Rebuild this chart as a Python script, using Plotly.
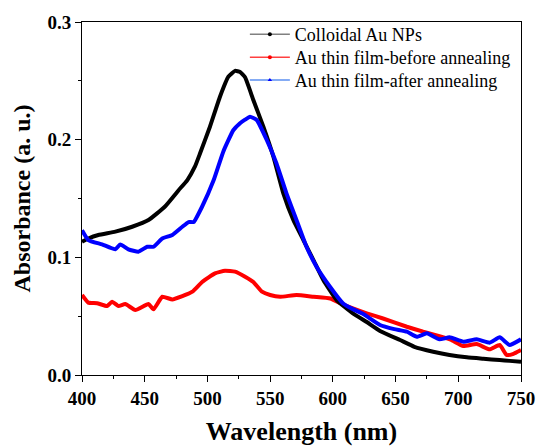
import plotly.graph_objects as go

# Colloidal Au NPs
wl_black = [400, 405, 413, 426.6, 440, 453, 466, 477, 484, 490, 494, 502, 510, 516.7, 522, 526,
            530, 536.6, 544.6, 552.6, 560.5, 568.5, 576.5, 584.5, 592.4, 603, 616, 627, 637.6,
            653.6, 665, 680, 693, 706.8, 720, 733, 741, 750]
ab_black = [0.1133, 0.116, 0.119, 0.1218, 0.126, 0.1317, 0.143, 0.157, 0.1657, 0.177, 0.188, 0.211,
            0.2365, 0.2535, 0.2585, 0.2575, 0.253, 0.2337, 0.211, 0.1855, 0.1544, 0.1317, 0.1147,
            0.0977, 0.0807, 0.0637, 0.0524, 0.045, 0.0375, 0.0297, 0.024, 0.0198, 0.017, 0.015,
            0.0138, 0.0127, 0.012, 0.0113]

# Au thin film - before annealing
wl_red = [400, 405, 412, 420, 424, 429, 434.5, 442.5, 453, 457, 464, 472, 480, 488, 496, 506, 514,
          522, 530, 536.6, 543.5, 550, 558, 571, 584.5, 598, 606, 616, 627, 640, 659, 672, 685, 694,
          704, 714.7, 725, 733, 738.5, 744, 750]
ab_red = [0.068, 0.0615, 0.061, 0.0586, 0.0623, 0.0586, 0.0603, 0.0552, 0.0603, 0.0558, 0.0665,
          0.0642, 0.067, 0.0708, 0.0793, 0.0864, 0.0886, 0.0878, 0.0835, 0.079, 0.0708, 0.068,
          0.0665, 0.068, 0.0665, 0.065, 0.061, 0.0566, 0.0524, 0.048, 0.041, 0.0368, 0.033, 0.030,
          0.0246, 0.0263, 0.0218, 0.0255, 0.017, 0.018, 0.0212]

# Au thin film - after annealing
wl_blue = [400, 405, 416, 426.6, 430.5, 437, 445, 452, 457, 464, 472, 480, 485, 489, 495.7, 505,
           512.7, 520.6, 526, 530, 534, 539.3, 547.3, 555, 563, 571, 579, 587, 597.7, 608, 616,
           624, 637.6, 649, 659, 667, 675, 685, 693, 704, 714.7, 725, 733, 741, 750]
ab_blue = [0.123, 0.1147, 0.111, 0.1068, 0.111, 0.1068, 0.1048, 0.109, 0.109, 0.116, 0.119, 0.126,
           0.130, 0.130, 0.143, 0.1657, 0.190, 0.208, 0.214, 0.217, 0.2195, 0.2167, 0.1997, 0.180,
           0.1544, 0.1317, 0.109, 0.092, 0.075, 0.061, 0.056, 0.052, 0.0425, 0.039, 0.0368, 0.0325,
           0.0354, 0.0303, 0.032, 0.0283, 0.0303, 0.0275, 0.032, 0.0255, 0.0303]

names = ["Colloidal Au NPs", "Au thin film-before annealing", "Au thin film-after annealing"]
line_colors = ["#000000", "#ff0000", "#0000ff"]
legend_line_colors = ["#808080", "#ff4040", "#5b8ff0"]
legend_marker_colors = ["#000000", "#ff0000", "#0000ff"]
legend_symbols = ["circle", "circle", "triangle-up"]
legend_ids = ["legend", "legend2", "legend3"]
legend_y = [1.017, 0.952, 0.887]

series = [(wl_black, ab_black), (wl_red, ab_red), (wl_blue, ab_blue)]

fig = go.Figure()
# draw red first, then black, then blue on top (as in the reference)
for idx in [1, 0, 2]:
    wl, ab = series[idx]
    fig.add_trace(go.Scatter(x=wl, y=ab, mode="lines", showlegend=False,
                             line=dict(color=line_colors[idx], width=4, shape="spline", smoothing=0.4)))

for i in range(3):
    fig.add_trace(go.Scatter(x=[None], y=[None], mode="lines+markers", name=names[i],
                             legend=legend_ids[i],
                             line=dict(color=legend_line_colors[i], width=1.5),
                             marker=dict(color=legend_marker_colors[i], size=4, symbol=legend_symbols[i])))

font_family = "Liberation Serif"
legend_common = dict(x=0.371, xanchor="left", yanchor="top", bgcolor="rgba(0,0,0,0)",
                     font=dict(family=font_family, size=18, color="black"), itemwidth=40)

fig.update_layout(
    width=537, height=447,
    margin=dict(l=82, r=16, t=22, b=72, autoexpand=False),
    plot_bgcolor="white", paper_bgcolor="white",
    font=dict(family=font_family, color="black"),
    legend=dict(y=legend_y[0], **legend_common),
    legend2=dict(y=legend_y[1], **legend_common),
    legend3=dict(y=legend_y[2], **legend_common),
    xaxis=dict(range=[400, 750], tickvals=[400, 450, 500, 550, 600, 650, 700, 750],
               showline=True, linecolor="black", linewidth=1, mirror=True, automargin=False,
               ticks="outside", ticklen=6, tickwidth=1, tickcolor="black",
               minor=dict(dtick=25, ticks="outside", ticklen=3, tickcolor="black", tick0=400),
               showgrid=False, zeroline=False,
               tickfont=dict(family=font_family, size=19, color="black", weight="bold"),
               title=dict(text="<b>Wavelength (nm)</b>", font=dict(family=font_family, size=26), standoff=14)),
    yaxis=dict(range=[0, 0.3], tickvals=[0, 0.1, 0.2, 0.3], tickformat=".1f",
               showline=True, linecolor="black", linewidth=1, mirror=True, automargin=False,
               ticks="outside", ticklen=6, tickwidth=1, tickcolor="black",
               minor=dict(dtick=0.05, ticks="outside", ticklen=3, tickcolor="black", tick0=0),
               showgrid=False, zeroline=False,
               tickfont=dict(family=font_family, size=19, color="black", weight="bold"),
               title=dict(text="<b>Absorbance (a. u.)</b>", font=dict(family=font_family, size=24), standoff=10)),
)

fig.write_html("out.html")
